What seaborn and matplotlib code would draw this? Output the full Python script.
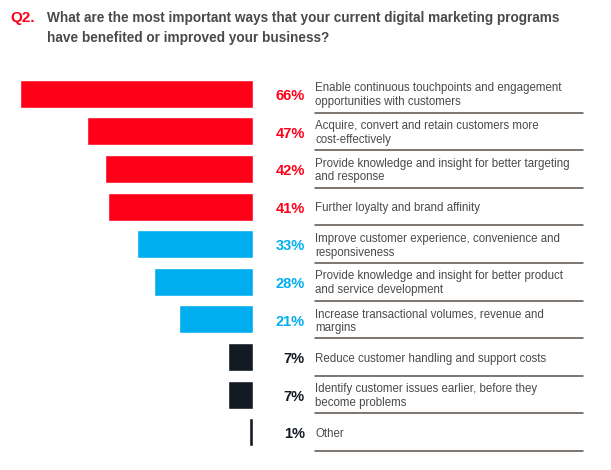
import pandas as pd
import seaborn as sns
import matplotlib.pyplot as plt
import matplotlib.transforms as mtransforms

# data
labels = [
    "Enable continuous touchpoints and engagement\nopportunities with customers",
    "Acquire, convert and retain customers more\ncost-effectively",
    "Provide knowledge and insight for better targeting\nand response",
    "Further loyalty and brand affinity",
    "Improve customer experience, convenience and\nresponsiveness",
    "Provide knowledge and insight for better product\nand service development",
    "Increase transactional volumes, revenue and\nmargins",
    "Reduce customer handling and support costs",
    "Identify customer issues earlier, before they\nbecome problems",
    "Other",
]
values = [66, 47, 42, 41, 33, 28, 21, 7, 7, 1]
groups = ["top", "top", "top", "top", "mid", "mid", "mid", "low", "low", "low"]

palette = {"top": "#FF0019", "mid": "#00AEEF", "low": "#141A23"}

df = pd.DataFrame({"label": labels, "value": values, "group": groups})

sns.set_style("white")
plt.rcParams["font.family"] = ["Liberation Sans", "DejaVu Sans"]

fig = plt.figure(figsize=(6.11, 4.70), dpi=100)
W, H = 611, 470
ax = fig.add_axes([20 / W, 1 - 451 / H, (253 - 20) / W, (451 - 75) / H])

sns.barplot(data=df, x="value", y="label", hue="group", palette=palette,
            dodge=False, legend=False, width=0.74, ax=ax, saturation=1)
ax.set_xlim(66, 0)
ax.set_ylim(len(labels) - 0.5, -0.5)
ax.axis("off")

trans = mtransforms.blended_transform_factory(fig.transFigure, ax.transData)
text_gray = "#4A4A4A"
for i, (lab, v, g) in enumerate(zip(labels, values, groups)):
    ax.text(305 / W, i + 0.06, f"{v}%", transform=trans, ha="right", va="center",
            fontsize=10.5, fontweight="bold", color=palette[g])
    ax.text(315 / W, i + 0.04, lab, transform=trans, ha="left", va="center",
            fontsize=8.3, color=text_gray, linespacing=1.2)
    ax.plot([315 / W, 583 / W], [i + 0.5, i + 0.5], transform=trans,
            color="#5B5048", lw=1.1, clip_on=False)

fig.text(10 / W, 1 - 18 / H, "Q2.", color="#FF0019", fontsize=11,
         fontweight="bold", va="center", ha="left")
fig.text(47 / W, 1 - 28 / H,
         "What are the most important ways that your current digital marketing programs\n"
         "have benefited or improved your business?",
         color="#4A4A4A", fontsize=9.8, fontweight="bold", va="center", ha="left",
         linespacing=1.6)

fig.savefig("out.png", dpi=100)
